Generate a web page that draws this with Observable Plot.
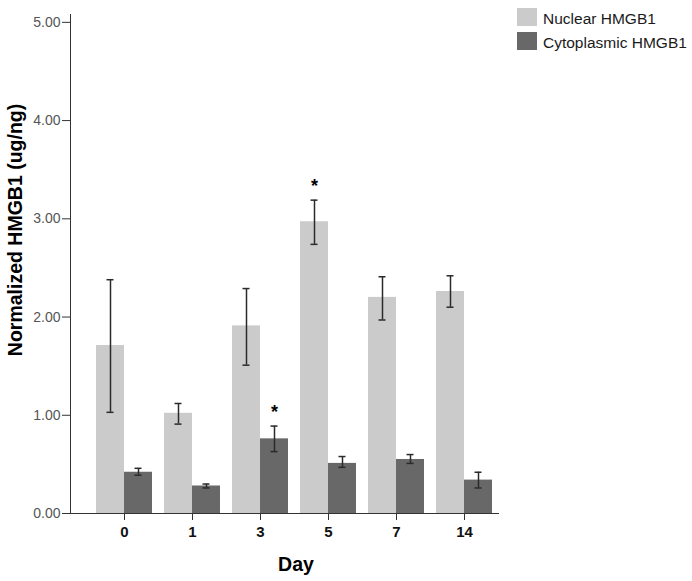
<!DOCTYPE html>
<html>
<head>
<meta charset="utf-8">
<script src="https://cdn.jsdelivr.net/npm/d3@7"></script>
<script src="https://cdn.jsdelivr.net/npm/@observablehq/plot@0.6"></script>
<style>
  html, body { margin: 0; padding: 0; background: #fff; }
  #wrap { position: relative; width: 692px; height: 581px; font-family: "Liberation Sans", Arial, sans-serif; }
  #legend { position: absolute; left: 517px; top: 8px; }
  .item { display: flex; align-items: center; height: 18px; margin-bottom: 6px; }
  .sw { width: 20px; height: 18px; margin-right: 6px; }
  .lab { font-size: 15.5px; color: #1a1a1a; padding-top: 3px; white-space: nowrap; }
</style>
</head>
<body>
<div id="wrap"><div id="legend"></div></div>
<script>
// ---- data ----
const days = ["0", "1", "3", "5", "7", "14"];
const seriesNames = ["Nuclear HMGB1", "Cytoplasmic HMGB1"];
const nuclearMean = [1.71, 1.02, 1.91, 2.97, 2.20, 2.26];
const nuclearLow  = [1.03, 0.91, 1.51, 2.74, 1.97, 2.10];
const nuclearHigh = [2.38, 1.12, 2.29, 3.19, 2.41, 2.42];
const cytoMean = [0.42, 0.28, 0.76, 0.51, 0.55, 0.34];
const cytoLow  = [0.39, 0.26, 0.63, 0.47, 0.51, 0.26];
const cytoHigh = [0.46, 0.30, 0.89, 0.58, 0.60, 0.42];
const nuclearSig = [false, false, false, true, false, false];
const cytoSig    = [false, false, true, false, false, false];
const yTicks = [0, 1, 2, 3, 4, 5];
const xTitle = "Day";
const yTitle = "Normalized HMGB1 (ug/ng)";

// ---- styles ----
const colors = ["#cbcbcb", "#686868"];
const font = "Liberation Sans, Arial, sans-serif";

const nuc = days.map((d, i) => ({day: d, mean: nuclearMean[i], lo: nuclearLow[i], hi: nuclearHigh[i], sig: nuclearSig[i]}));
const cyt = days.map((d, i) => ({day: d, mean: cytoMean[i], lo: cytoLow[i], hi: cytoHigh[i], sig: cytoSig[i]}));

const errStroke = "#2a2a2a";
function errMarks(data, side) {
  const dx = side * 14;
  const capL = side < 0 ? 10.5 : 38.5;
  const capR = side < 0 ? 38.5 : 10.5;
  return [
    Plot.ruleX(data, {x: "day", y1: "lo", y2: "hi", dx, stroke: errStroke, strokeWidth: 1.5}),
    Plot.tickY(data, {x: "day", y: "lo", insetLeft: capL, insetRight: capR, stroke: errStroke, strokeWidth: 1.5}),
    Plot.tickY(data, {x: "day", y: "hi", insetLeft: capL, insetRight: capR, stroke: errStroke, strokeWidth: 1.5}),
    Plot.text(data.filter(d => d.sig), {x: "day", y: "hi", text: () => "*", dx, dy: -13.5, fontSize: 18, fontWeight: "bold", fill: "#000"})
  ];
}

const chart = Plot.plot({
  width: 692,
  height: 581,
  marginLeft: 70,
  marginRight: 193,
  marginTop: 14,
  marginBottom: 68,
  style: {fontFamily: font, background: "#fff"},
  x: {domain: days, paddingInner: 0.181, paddingOuter: 0.219, align: 0.77, axis: null},
  y: {domain: [0, 5.08], axis: null},
  marks: [
    Plot.barY(nuc, {x: "day", y: "mean", fill: colors[0], insetRight: 28}),
    Plot.barY(cyt, {x: "day", y: "mean", fill: colors[1], insetLeft: 28}),
    ...errMarks(nuc, -1),
    ...errMarks(cyt, 1),
    Plot.frame({anchor: "left", stroke: "#333"}),
    Plot.ruleY([0], {stroke: "#333"}),
    Plot.axisY({ticks: yTicks, tickFormat: d3.format(".2f"), tickSize: 8, tickPadding: 2, fontSize: 14, fill: "#555", stroke: "#333", label: null}),
    Plot.axisX({tickSize: 7, tickPadding: 6, fontSize: 15, fontWeight: "bold", fill: "#111", stroke: "#333", label: null}),
    Plot.text([xTitle], {frameAnchor: "bottom", dx: 11, dy: 57, fontSize: 19.5, fontWeight: "bold", fill: "#000"}),
    Plot.text([yTitle], {frameAnchor: "left", textAnchor: "middle", rotate: -90, dx: -55, dy: -34, fontSize: 19.5, fontWeight: "bold", fill: "#000"})
  ]
});

const wrap = document.getElementById("wrap");
wrap.insertBefore(chart, wrap.firstChild);

const legend = document.getElementById("legend");
seriesNames.forEach((name, i) => {
  const item = document.createElement("div");
  item.className = "item";
  const sw = document.createElement("div");
  sw.className = "sw";
  sw.style.background = colors[i];
  const lab = document.createElement("div");
  lab.className = "lab";
  lab.textContent = name;
  item.appendChild(sw);
  item.appendChild(lab);
  legend.appendChild(item);
});
</script>
</body>
</html>
